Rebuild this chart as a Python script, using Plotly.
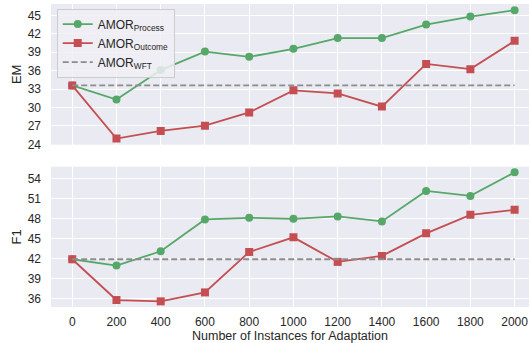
import plotly.graph_objects as go

instances = [0, 200, 400, 600, 800, 1000, 1200, 1400, 1600, 1800, 2000]
em_process = [33.6, 31.3, 36.1, 39.1, 38.25, 39.55, 41.3, 41.3, 43.5, 44.8, 45.85]
em_outcome = [33.6, 24.95, 26.2, 27.05, 29.2, 32.8, 32.3, 30.15, 37.1, 36.25, 40.85]
em_wft = 33.6
f1_process = [41.9, 40.95, 43.1, 47.9, 48.15, 48.0, 48.35, 47.6, 52.2, 51.45, 55.0]
f1_outcome = [41.9, 35.75, 35.55, 36.9, 43.0, 45.2, 41.5, 42.4, 45.8, 48.6, 49.35]
f1_wft = 41.9
em_ticks = [24, 27, 30, 33, 36, 39, 42, 45]
f1_ticks = [36, 39, 42, 45, 48, 51, 54]

GREEN = "#55A868"
RED = "#C44E52"
GRAY = "#8c8c8c"
BG = "#EAEAF2"
FONT = "Liberation Sans, Arial, sans-serif"
TXT = "#262626"

fig = go.Figure()

def add_panel(proc, outc, wft, xa, ya, show):
    fig.add_trace(go.Scatter(x=instances, y=proc, mode="lines+markers", xaxis=xa, yaxis=ya,
                             name="AMOR<sub>Process</sub>", showlegend=show, legendgroup="p",
                             line=dict(color=GREEN, width=1.8),
                             marker=dict(symbol="circle", size=8, color=GREEN)))
    fig.add_trace(go.Scatter(x=instances, y=outc, mode="lines+markers", xaxis=xa, yaxis=ya,
                             name="AMOR<sub>Outcome</sub>", showlegend=show, legendgroup="o",
                             line=dict(color=RED, width=1.8),
                             marker=dict(symbol="square", size=8, color=RED)))
    fig.add_trace(go.Scatter(x=[instances[0], instances[-1]], y=[wft, wft], mode="lines",
                             xaxis=xa, yaxis=ya,
                             name="AMOR<sub>WFT</sub>", showlegend=show, legendgroup="w",
                             line=dict(color=GRAY, width=1.8, dash="6px,3px")))

add_panel(em_process, em_outcome, em_wft, "x", "y", True)
add_panel(f1_process, f1_outcome, f1_wft, "x2", "y2", False)

xcommon = dict(range=[-96, 2065], tickvals=instances, showgrid=True, gridcolor="white",
               gridwidth=1.3, zeroline=False, showline=False, ticks="",
               tickfont=dict(family=FONT, size=12, color=TXT))
ycommon = dict(showgrid=True, gridcolor="white", gridwidth=1.3, zeroline=False,
               showline=False, ticks="", ticklabelstandoff=9,
               tickfont=dict(family=FONT, size=12, color=TXT))

fig.update_layout(
    width=529, height=343,
    margin=dict(l=51, r=0, t=4, b=36, autoexpand=False),
    paper_bgcolor="white", plot_bgcolor=BG,
    font=dict(family=FONT, color=TXT),
    xaxis=dict(**xcommon, domain=[0, 1], anchor="y", showticklabels=False),
    xaxis2=dict(**xcommon, domain=[0, 1], anchor="y2", matches="x",
                ticklabelstandoff=6, automargin=False,
                title=dict(text="Number of Instances for Adaptation",
                           font=dict(family=FONT, size=12.5, color=TXT), standoff=4)),
    yaxis=dict(**ycommon, domain=[0.5356, 1], range=[23.95, 46.85], tickvals=em_ticks,
               automargin=False,
               title=dict(text="EM", font=dict(family=FONT, size=13, color=TXT), standoff=3)),
    yaxis2=dict(**ycommon, domain=[0, 0.463], range=[34.7, 55.85], tickvals=f1_ticks,
                automargin=False,
                title=dict(text="F1", font=dict(family=FONT, size=13, color=TXT), standoff=3)),
    legend=dict(x=0.012, y=0.985, xanchor="left", yanchor="top",
                bgcolor="rgba(238,238,244,0.85)", bordercolor="#cccccc", borderwidth=1,
                font=dict(family=FONT, size=12, color=TXT),
                tracegroupgap=0, itemwidth=30),
    showlegend=True,
)

fig.write_html("out.html", config={"displayModeBar": False},
               post_script="document.body.style.margin='0px';document.body.style.overflow='hidden';")
